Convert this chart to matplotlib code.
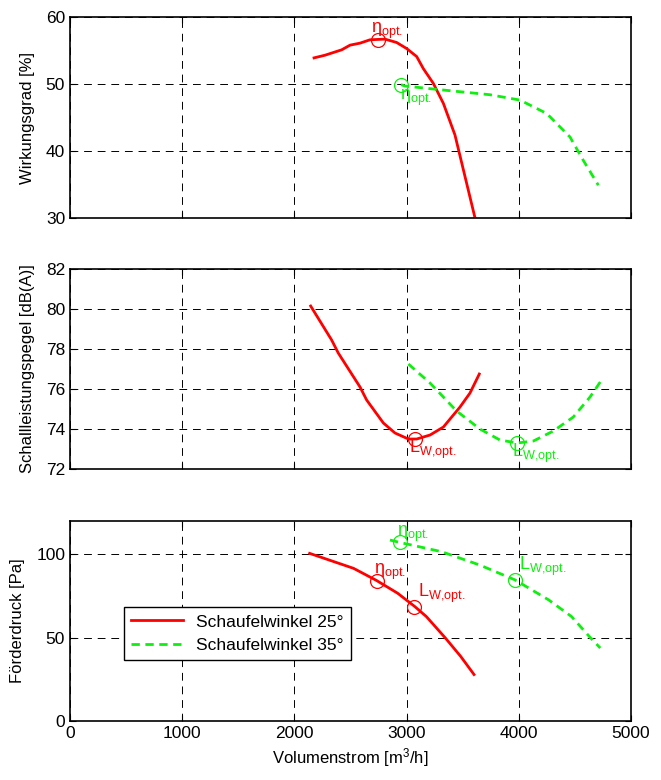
import matplotlib
matplotlib.use("Agg")
import matplotlib.pyplot as plt

plt.rcParams['font.family'] = ['Liberation Sans', 'DejaVu Sans']
plt.rcParams['mathtext.fontset'] = 'custom'
plt.rcParams['mathtext.rm'] = 'Liberation Sans'
plt.rcParams['mathtext.it'] = 'Liberation Sans:italic'

# Wirkungsgrad [%]
eta25_x = [2175, 2273, 2421, 2496, 2585, 2674, 2807, 2911, 3000, 3090, 3149, 3238, 3328, 3431, 3610]
eta25_y = [53.9, 54.3, 55.1, 55.8, 56.1, 56.6, 56.7, 56.2, 55.3, 54.1, 52.3, 50.1, 47.1, 42.4, 30.0]
eta35_x = [2950, 2986, 3268, 3743, 4011, 4249, 4456, 4575, 4709]
eta35_y = [49.9, 49.7, 49.2, 48.4, 47.6, 45.6, 42.1, 38.6, 34.9]

# Schallleistungspegel [dB(A)]
lw25_x = [2145, 2332, 2391, 2585, 2644, 2793, 2897, 3016, 3090, 3209, 3328, 3476, 3565, 3648]
lw25_y = [80.15, 78.45, 77.8, 76.1, 75.45, 74.3, 73.8, 73.5, 73.5, 73.7, 74.1, 75.1, 75.8, 76.75]
lw35_x = [3016, 3209, 3446, 3654, 3832, 3987, 4130, 4308, 4486, 4635, 4738]
lw35_y = [77.25, 76.3, 74.9, 74.0, 73.45, 73.3, 73.4, 73.9, 74.6, 75.6, 76.45]

# Förderdruck [Pa]
dp25_x = [2136, 2528, 2733, 2920, 3073, 3176, 3346, 3482, 3601]
dp25_y = [100.6, 91.6, 84.3, 76.7, 68.7, 62.7, 49.8, 38.8, 27.9]
dp35_x = [2852, 2937, 3312, 3652, 3966, 4266, 4470, 4641, 4726]
dp35_y = [108.6, 107.2, 101.6, 93.6, 84.7, 72.7, 62.7, 49.8, 43.8]

# optimum points: (x, y) per panel
opt25_eta = [(2742, 56.6), None, (2733, 84.3)]
opt35_eta = [(2950, 49.9), None, (2937, 107.2)]
opt25_lw = [None, (3075, 73.5), (3066, 68.7)]
opt35_lw = [None, (3987, 73.3), (3966, 84.7)]

red = '#ff0000'
green = '#11ee11'
eta_txt = r'η$_{\mathrm{opt.}}$'
lw_txt = r'L$_{\mathrm{W{,}opt.}}$'

fig = plt.figure(figsize=(6.61, 7.80), dpi=100)
ax1 = fig.add_axes([0.1059, 0.7205, 0.8487, 0.2577])
ax2 = fig.add_axes([0.1059, 0.3987, 0.8487, 0.2564])
ax3 = fig.add_axes([0.1059, 0.0756, 0.8487, 0.2564])

dash = (0, (3, 2))
ax1.plot(eta25_x, eta25_y, color=red, lw=2)
ax1.plot(eta35_x, eta35_y, color=green, lw=2, ls=dash)
ax2.plot(lw25_x, lw25_y, color=red, lw=2)
ax2.plot(lw35_x, lw35_y, color=green, lw=2, ls=dash)
ax3.plot(dp25_x, dp25_y, color=red, lw=2, label='Schaufelwinkel 25°')
ax3.plot(dp35_x, dp35_y, color=green, lw=2, ls=dash, label='Schaufelwinkel 35°')

mk = dict(marker='o', ms=10, mfc='none', mew=0.9, ls='none')
fs = 13

# panel 1
x, y = opt25_eta[0]
ax1.plot(x, y, mec=red, **mk)
ax1.annotate(eta_txt, (x, y), xytext=(-5, -1), textcoords='offset points',
             color=red, fontsize=fs, ha='left', va='bottom')
x, y = opt35_eta[0]
ax1.plot(x, y, mec=green, **mk)
ax1.annotate(eta_txt, (x, y), xytext=(-1, -2), textcoords='offset points',
             color=green, fontsize=fs, ha='left', va='top')

# panel 2
for pt, c in [(opt25_lw[1], red), (opt35_lw[1], green)]:
    x, y = pt
    ax2.plot(x, y, mec=c, **mk)
    ax2.annotate(lw_txt, (x, y), xytext=(-4, 1), textcoords='offset points',
                 color=c, fontsize=fs, ha='left', va='top')

# panel 3
for pt, c in [(opt25_eta[2], red), (opt35_eta[2], green)]:
    x, y = pt
    ax3.plot(x, y, mec=c, **mk)
    ax3.annotate(eta_txt, (x, y), xytext=(-2, -1), textcoords='offset points',
                 color=c, fontsize=fs, ha='left', va='bottom')
for pt, c in [(opt25_lw[2], red), (opt35_lw[2], green)]:
    x, y = pt
    ax3.plot(x, y, mec=c, **mk)
    ax3.annotate(lw_txt, (x, y), xytext=(3, 1), textcoords='offset points',
                 color=c, fontsize=fs, ha='left', va='bottom')

ax1.set_ylim(30, 60)
ax1.set_yticks([30, 40, 50, 60])
ax2.set_ylim(72, 82)
ax2.set_yticks([72, 74, 76, 78, 80, 82])
ax3.set_ylim(0, 120)
ax3.set_yticks([0, 50, 100])

for ax in (ax1, ax2, ax3):
    ax.set_xlim(0, 5000)
    ax.set_xticks([0, 1000, 2000, 3000, 4000, 5000])
    ax.grid(True, color='black', ls=(0, (8, 6)), lw=0.7)
    ax.tick_params(direction='in', top=True, right=True, length=4, labelsize=12.5)
    for s in ax.spines.values():
        s.set_linewidth(1.2)
ax1.tick_params(labelbottom=False)
ax2.tick_params(labelbottom=False)

lab = dict(fontsize=12)
ax1.set_ylabel('Wirkungsgrad [%]', labelpad=8, **lab)
ax2.set_ylabel('Schallleistungspegel [dB(A)]', labelpad=8, **lab)
ax3.set_ylabel('Förderdruck [Pa]', labelpad=8, **lab)
ax3.set_xlabel(r'Volumenstrom [m$^3$/h]', labelpad=4, **lab)

leg = ax3.legend(loc='lower left', bbox_to_anchor=(0.08, 0.26), fontsize=12.5,
                 fancybox=False, edgecolor='black', framealpha=1,
                 handlelength=3.0, borderpad=0.4)
leg.get_frame().set_linewidth(1.0)

fig.savefig('out.png', dpi=100)
